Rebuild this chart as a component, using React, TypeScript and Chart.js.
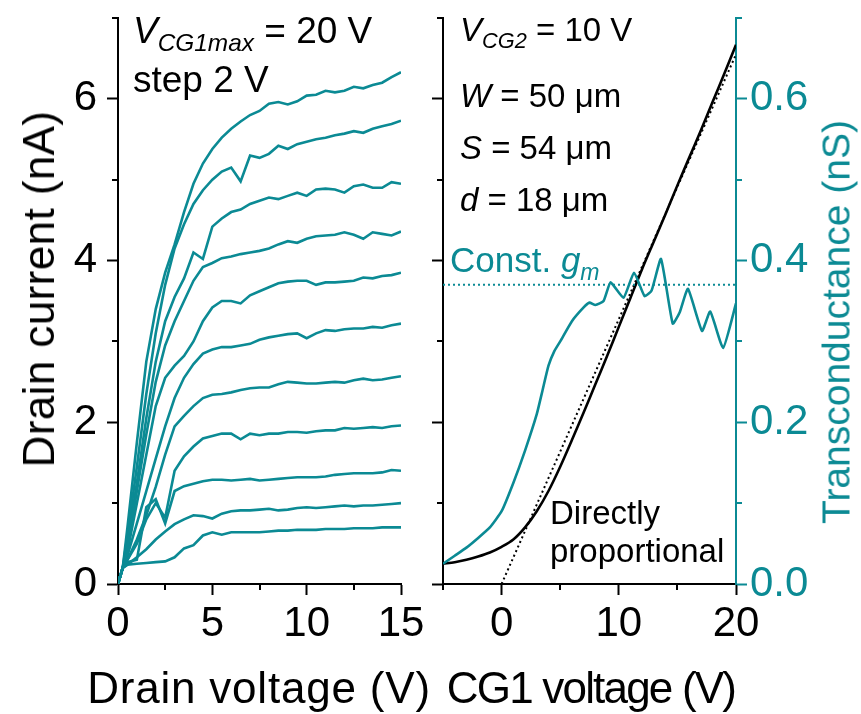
import React, { useEffect, useRef } from 'react';
import { Chart, registerables } from 'chart.js';

Chart.register(...registerables);

const TEAL = '#0B8A94';
const FONT = '"Liberation Sans", Arial, Helvetica, sans-serif';

// ---------- Left panel: output characteristics (VCG1 = 0..20 V, step 2 V) ----------
const DRAIN_V = [0, 0.25, 0.5, 1, 1.5, 2, 2.5, 3, 3.5, 4, 4.5, 5, 5.5, 6, 6.5, 7, 7.5, 8, 8.5, 9, 9.5, 10, 10.5, 11, 11.5, 12, 12.5, 13, 13.5, 14, 14.5, 15];
const ID_CG1_0 = [0, 0.2, 0.24, 0.25, 0.26, 0.27, 0.28, 0.33, 0.44, 0.48, 0.6, 0.64, 0.61, 0.64, 0.64, 0.64, 0.64, 0.65, 0.66, 0.66, 0.67, 0.67, 0.67, 0.68, 0.68, 0.68, 0.69, 0.69, 0.69, 0.7, 0.7, 0.7];
const ID_CG1_2 = [0, 0.2, 0.24, 0.33, 0.43, 0.55, 0.65, 0.74, 0.8, 0.85, 0.84, 0.81, 0.87, 0.9, 0.91, 0.91, 0.92, 0.93, 0.91, 0.92, 0.94, 0.95, 0.94, 0.95, 0.96, 0.97, 0.96, 0.97, 0.97, 0.98, 0.99, 1.0];
const ID_CG1_4 = [0, 0.2, 0.27, 0.3, 0.95, 1.05, 0.75, 1.15, 1.21, 1.24, 1.27, 1.29, 1.29, 1.28, 1.29, 1.3, 1.28, 1.29, 1.3, 1.31, 1.32, 1.32, 1.32, 1.33, 1.35, 1.36, 1.37, 1.37, 1.37, 1.38, 1.41, 1.4];
const ID_CG1_6 = [0, 0.2, 0.3, 0.5, 0.8, 1.0, 0.82, 1.4, 1.58, 1.7, 1.8, 1.83, 1.86, 1.86, 1.79, 1.86, 1.84, 1.86, 1.86, 1.88, 1.88, 1.87, 1.89, 1.9, 1.9, 1.93, 1.92, 1.93, 1.94, 1.93, 1.95, 1.96];
const ID_CG1_8 = [0, 0.2, 0.3, 0.55, 0.85, 1.2, 1.6, 1.95, 2.08, 2.2, 2.3, 2.34, 2.35, 2.37, 2.4, 2.42, 2.43, 2.43, 2.47, 2.5, 2.49, 2.48, 2.48, 2.49, 2.5, 2.49, 2.52, 2.54, 2.52, 2.53, 2.55, 2.57];
const ID_CG1_10 = [0, 0.2, 0.35, 0.75, 1.15, 1.55, 1.95, 2.3, 2.55, 2.72, 2.85, 2.9, 2.93, 2.93, 2.95, 2.97, 3.02, 3.05, 3.07, 3.09, 3.1, 3.04, 3.1, 3.14, 3.13, 3.15, 3.16, 3.16, 3.18, 3.17, 3.2, 3.22];
const ID_CG1_12 = [0, 0.2, 0.4, 1.0, 1.6, 2.2, 2.55, 2.7, 2.82, 3.0, 3.25, 3.42, 3.5, 3.5, 3.47, 3.57, 3.62, 3.67, 3.72, 3.74, 3.75, 3.75, 3.7, 3.73, 3.73, 3.74, 3.75, 3.79, 3.78, 3.81, 3.82, 3.85];
const ID_CG1_14 = [0, 0.2, 0.45, 1.15, 1.85, 2.5, 2.95, 3.25, 3.5, 3.75, 3.92, 3.97, 4.03, 4.05, 4.08, 4.1, 4.12, 4.15, 4.2, 4.24, 4.22, 4.27, 4.3, 4.31, 4.32, 4.35, 4.32, 4.27, 4.35, 4.33, 4.31, 4.36];
const ID_CG1_16 = [0, 0.2, 0.5, 1.25, 2.05, 2.75, 3.25, 3.55, 3.78, 4.1, 4.02, 4.42, 4.52, 4.6, 4.63, 4.7, 4.74, 4.78, 4.76, 4.8, 4.84, 4.8, 4.88, 4.89, 4.88, 4.84, 4.92, 4.94, 4.9, 4.9, 4.97, 4.95];
const ID_CG1_18 = [0, 0.2, 0.6, 1.45, 2.35, 3.1, 3.7, 4.15, 4.45, 4.7, 4.87, 5.0, 5.1, 5.15, 4.98, 5.3, 5.27, 5.32, 5.42, 5.38, 5.44, 5.47, 5.5, 5.52, 5.55, 5.57, 5.6, 5.58, 5.63, 5.66, 5.69, 5.73];
const ID_CG1_20 = [0, 0.2, 0.7, 1.75, 2.75, 3.4, 3.85, 4.2, 4.6, 4.95, 5.2, 5.38, 5.52, 5.63, 5.72, 5.8, 5.85, 5.94, 5.96, 5.93, 5.97, 6.04, 6.05, 6.1, 6.08, 6.1, 6.15, 6.13, 6.17, 6.2, 6.27, 6.33];
const OUTPUT_CURVES = [ID_CG1_0, ID_CG1_2, ID_CG1_4, ID_CG1_6, ID_CG1_8, ID_CG1_10, ID_CG1_12, ID_CG1_14, ID_CG1_16, ID_CG1_18, ID_CG1_20];

const DRAIN_TICKS = [0, 5, 10, 15];
const DRAIN_MINOR = [2.5, 7.5, 12.5];
const CURRENT_TICKS = [0, 2, 4, 6];
const CURRENT_MINOR = [1, 3, 5, 7];

// ---------- Right panel: transfer characteristic and transconductance ----------
const CG1_V = [-5, -4, -3, -2, -1, 0, 1, 2, 3, 4, 5, 6, 7, 8, 9, 10, 11, 12, 13, 14, 15, 16, 17, 18, 19, 20];
const ID_TRANSFER = [0.25, 0.27, 0.3, 0.34, 0.39, 0.46, 0.55, 0.7, 0.9, 1.15, 1.45, 1.78, 2.12, 2.47, 2.82, 3.18, 3.54, 3.9, 4.24, 4.58, 4.93, 5.27, 5.61, 5.96, 6.31, 6.67];
const GM_V = [-5, -4, -3, -2, -1, 0, 1, 2, 3, 3.5, 4, 4.5, 5, 6, 7, 7.5, 8, 8.7, 9.3, 10.4, 11.3, 12.2, 12.8, 13.6, 14.6, 15.2, 15.9, 17.1, 17.8, 18.9, 20];
const GM = [0.025, 0.035, 0.045, 0.057, 0.07, 0.09, 0.125, 0.165, 0.21, 0.24, 0.27, 0.288, 0.3, 0.325, 0.342, 0.348, 0.345, 0.35, 0.373, 0.354, 0.385, 0.356, 0.363, 0.402, 0.322, 0.336, 0.365, 0.313, 0.337, 0.292, 0.347];
const GM_CONST_V = [-5, 20];
const GM_CONST = [0.37, 0.37];
const PROP_V = [0, 20];
const PROP_I = [0, 6.55];

const CG1_TICKS = [0, 10, 20];
const CG1_MINOR = [-5, 5, 15];
const GM_TICKS = [0, 0.2, 0.4, 0.6];
const GM_MINOR = [0.1, 0.3, 0.5, 0.7];

const zip = (xs: number[], ys: number[]) => xs.map((x, i) => ({ x, y: ys[i] }));

const minorTickPlugin = {
  id: 'minorTicks',
  afterDraw(chart: any, _args: any, opts: any) {
    const ctx = chart.ctx;
    for (const spec of opts.specs || []) {
      const scale = chart.scales[spec.axis];
      if (!scale) continue;
      ctx.save();
      ctx.strokeStyle = spec.color;
      ctx.lineWidth = spec.width;
      ctx.beginPath();
      for (const v of spec.values) {
        const p = Math.round(scale.getPixelForValue(v));
        if (scale.isHorizontal()) {
          ctx.moveTo(p, scale.top);
          ctx.lineTo(p, scale.top + spec.length);
        } else if (scale.position === 'left') {
          ctx.moveTo(scale.right - spec.length, p);
          ctx.lineTo(scale.right, p);
        } else {
          ctx.moveTo(scale.left, p);
          ctx.lineTo(scale.left + spec.length, p);
        }
      }
      ctx.stroke();
      ctx.restore();
    }
  },
};

const fixWidth = (w: number) => (s: any) => {
  s.width = w;
  s.paddingTop = 0;
  s.paddingBottom = 0;
  s.paddingLeft = 0;
  s.paddingRight = 0;
};
const fixHeight = (h: number) => (s: any) => {
  s.height = h;
  s.paddingTop = 0;
  s.paddingBottom = 0;
  s.paddingLeft = 0;
  s.paddingRight = 0;
};
const setTicks = (vals: number[]) => (s: any) => {
  s.ticks = vals.map((v) => ({ value: v }));
};

const tickFont = { family: FONT, size: 42 };

function axis(color: string, ticks: number[], opts: any) {
  return {
    type: 'linear',
    afterBuildTicks: setTicks(ticks),
    border: { display: true, color, width: 2 },
    grid: { display: true, drawOnChartArea: false, drawTicks: true, tickLength: 11, tickWidth: 2, tickColor: color },
    ...opts,
    ticks: { color, font: tickFont, autoSkip: false, maxRotation: 0, ...(opts.ticks || {}) },
  };
}

function leftConfig(): any {
  return {
    type: 'line',
    data: {
      datasets: OUTPUT_CURVES.map((ys, i) => ({
        label: `VCG1 = ${i * 2} V`,
        data: zip(DRAIN_V, ys),
        borderColor: TEAL,
        borderWidth: 2.6,
        pointRadius: 0,
        tension: 0,
        fill: false,
      })),
    },
    options: {
      animation: false,
      responsive: false,
      devicePixelRatio: 1,
      layout: { autoPadding: false, padding: { top: 18, right: 29, left: 0, bottom: 0 } },
      plugins: {
        legend: { display: false },
        tooltip: { enabled: false },
        minorTicks: {
          specs: [
            { axis: 'x', values: DRAIN_MINOR, length: 6, width: 2, color: '#000' },
            { axis: 'y', values: CURRENT_MINOR, length: 6, width: 2, color: '#000' },
          ],
        },
      },
      scales: {
        x: axis('#000', DRAIN_TICKS, {
          position: 'bottom',
          min: 0,
          max: 15,
          afterFit: fixHeight(130),
          ticks: { padding: 4, callback: (v: any) => String(v) },
        }),
        y: axis('#000', CURRENT_TICKS, {
          position: 'left',
          min: 0,
          max: 7,
          afterFit: fixWidth(118),
          ticks: { padding: 10, callback: (v: any) => String(v) },
        }),
      },
    },
    plugins: [minorTickPlugin],
  };
}

function rightConfig(): any {
  return {
    type: 'line',
    data: {
      datasets: [
        {
          label: 'Transconductance',
          data: zip(GM_V, GM),
          yAxisID: 'y2',
          borderColor: TEAL,
          borderWidth: 2.6,
          pointRadius: 0,
          tension: 0.15,
        },
        {
          label: 'Const. gm',
          data: zip(GM_CONST_V, GM_CONST),
          yAxisID: 'y2',
          borderColor: TEAL,
          borderWidth: 2,
          borderDash: [2, 3],
          pointRadius: 0,
        },
        {
          label: 'Drain current',
          data: zip(CG1_V, ID_TRANSFER),
          yAxisID: 'y',
          borderColor: '#000',
          borderWidth: 2.6,
          pointRadius: 0,
          tension: 0.3,
        },
        {
          label: 'Directly proportional',
          data: zip(PROP_V, PROP_I),
          yAxisID: 'y',
          borderColor: '#000',
          borderWidth: 2,
          borderDash: [2, 3],
          pointRadius: 0,
        },
      ],
    },
    options: {
      animation: false,
      responsive: false,
      devicePixelRatio: 1,
      layout: { autoPadding: false, padding: { top: 18, right: 0, left: 0, bottom: 0 } },
      plugins: {
        legend: { display: false },
        tooltip: { enabled: false },
        minorTicks: {
          specs: [
            { axis: 'x', values: CG1_MINOR, length: 6, width: 2, color: '#000' },
            { axis: 'y', values: CURRENT_MINOR, length: 6, width: 2, color: '#000' },
            { axis: 'y2', values: GM_MINOR, length: 6, width: 2, color: TEAL },
          ],
        },
      },
      scales: {
        x: axis('#000', CG1_TICKS, {
          position: 'bottom',
          min: -5,
          max: 20,
          afterFit: fixHeight(130),
          ticks: { padding: 4, callback: (v: any) => String(v) },
        }),
        y: axis('#000', CURRENT_TICKS, {
          position: 'left',
          min: 0,
          max: 7,
          afterFit: fixWidth(13),
          ticks: { display: false },
        }),
        y2: axis(TEAL, GM_TICKS, {
          position: 'right',
          min: 0,
          max: 0.7,
          afterFit: fixWidth(125),
          ticks: { padding: 3, callback: (v: any) => Number(v).toFixed(1) },
        }),
      },
    },
    plugins: [minorTickPlugin],
  };
}

const abs = (left: number, top: number, size: number, color = '#000'): React.CSSProperties => ({
  position: 'absolute',
  left,
  top,
  fontSize: size,
  lineHeight: 1,
  color,
  whiteSpace: 'nowrap',
  fontFamily: FONT,
});

const centered = (cx: number, cy: number, size: number, color = '#000', rotate = 0, spacing = 0): React.CSSProperties => ({
  position: 'absolute',
  left: cx,
  top: cy,
  fontSize: size,
  lineHeight: 1,
  color,
  whiteSpace: 'nowrap',
  fontFamily: FONT,
  letterSpacing: spacing,
  transform: `translate(-50%, -50%)${rotate ? ` rotate(${rotate}deg)` : ''}`,
});

const subStyle: React.CSSProperties = { fontSize: '0.66em', fontStyle: 'italic', position: 'relative', top: '0.34em' };

export default function App() {
  const leftRef = useRef<HTMLCanvasElement>(null);
  const rightRef = useRef<HTMLCanvasElement>(null);

  useEffect(() => {
    const c1 = new Chart(leftRef.current as HTMLCanvasElement, leftConfig());
    const c2 = new Chart(rightRef.current as HTMLCanvasElement, rightConfig());
    return () => {
      c1.destroy();
      c2.destroy();
    };
  }, []);

  return (
    <div style={{ position: 'absolute', left: 0, top: 0, width: 861, height: 714, background: '#fff', overflow: 'hidden' }}>
      <canvas ref={leftRef} width={430} height={714} style={{ position: 'absolute', left: 0, top: 0, width: 430, height: 714, display: 'block' }} />
      <canvas ref={rightRef} width={431} height={714} style={{ position: 'absolute', left: 430, top: 0, width: 431, height: 714, display: 'block' }} />

      <div style={centered(39, 289, 44, '#000', -90, 0.4)}>Drain current (nA)</div>
      <div style={centered(259, 688, 44, '#000', 0, 0.8)}>Drain voltage (V)</div>
      <div style={centered(591, 688, 44, '#000', 0, -1.8)}>CG1 voltage (V)</div>
      <div style={centered(836, 322, 39, TEAL, -90)}>Transconductance (nS)</div>

      <div style={abs(133, 12, 37)}>
        <i>V</i>
        <span style={subStyle}>CG1max</span> = 20 V
      </div>
      <div style={abs(133, 61, 37)}>step 2 V</div>

      <div style={abs(460, 13, 33)}>
        <i>V</i>
        <span style={subStyle}>CG2</span> = 10 V
      </div>
      <div style={abs(460, 79, 33)}>
        <i>W</i> = 50 μm
      </div>
      <div style={abs(460, 131, 33)}>
        <i>S</i> = 54 μm
      </div>
      <div style={abs(460, 183, 33)}>
        <i>d</i> = 18 μm
      </div>
      <div style={abs(450, 242, 35, TEAL)}>
        Const. <i>g</i>
        <span style={subStyle}>m</span>
      </div>
      <div style={abs(550, 496, 33)}>Directly</div>
      <div style={abs(550, 534, 33)}>proportional</div>
    </div>
  );
}
